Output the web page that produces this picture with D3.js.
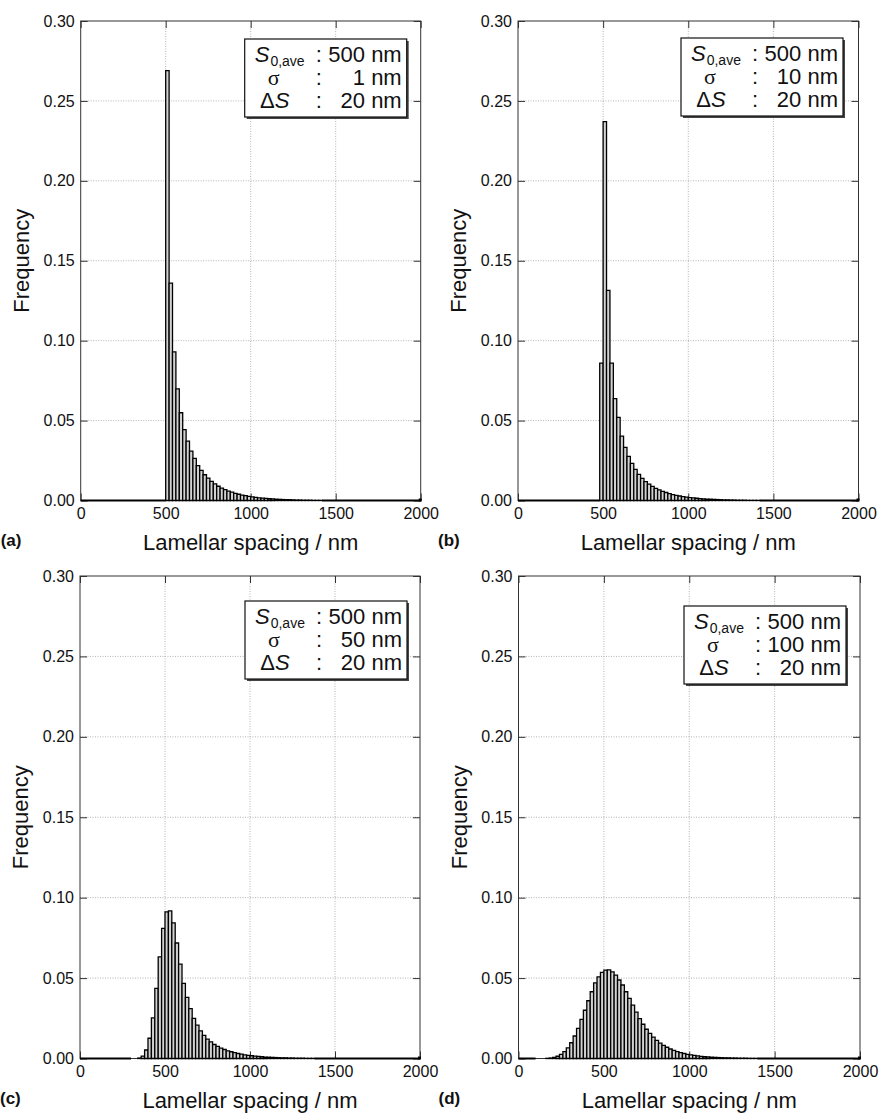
<!DOCTYPE html>
<html>
<head>
<meta charset="utf-8">
<script src="https://cdn.jsdelivr.net/npm/d3@7"></script>
<style>
  body { margin: 0; background: #fff; }
  text { font-family: "Liberation Sans", Arial, Helvetica, sans-serif; fill: #111; }
</style>
</head>
<body>
<svg id="fig" width="880" height="1114"></svg>
<script>
// ---- data ----
const xTicks = [0, 500, 1000, 1500, 2000];
const yTicks = [0, 0.05, 0.10, 0.15, 0.20, 0.25, 0.30];
const gridX = [500, 1000, 1500];
const gridY = [0.05, 0.10, 0.15, 0.20, 0.25];
const binWidth = 20;

const panelLetters = ["(a)", "(b)", "(c)", "(d)"];
const s0Labels = ["500 nm", "500 nm", "500 nm", "500 nm"];
const sigmaLabels = ["1 nm", "10 nm", "50 nm", "100 nm"];
const deltaLabels = ["20 nm", "20 nm", "20 nm", "20 nm"];

// first bin of each series (nm) and the empty stretch drawn as a flat line
const binStart = [500, 480, 340, 160];
const zeroRanges = [[0, 500], [0, 480], [0, 300], [0, 100]];

const freqA = [0.269, 0.136, 0.093, 0.0698, 0.0549, 0.0444, 0.0372, 0.0309, 0.0264, 0.0218,
  0.0189, 0.0161, 0.0140, 0.0120, 0.0104, 0.0089, 0.0078, 0.0068, 0.0059, 0.0052,
  0.0045, 0.0039, 0.0034, 0.0030, 0.0026, 0.0023, 0.0020, 0.0017, 0.0015, 0.0013,
  0.0011, 0.0010, 0.0008, 0.0007, 0.0006, 0.0005, 0.0005, 0.0004, 0.0003, 0.0003,
  0.0002, 0.0002, 0.0002, 0.0001, 0.0001, 0.0001];
const freqB = [0.086, 0.237, 0.1315, 0.086, 0.0638, 0.052, 0.0403, 0.0332, 0.0276, 0.0232,
  0.0195, 0.0164, 0.0138, 0.0118, 0.0102, 0.0088, 0.0076, 0.0066, 0.0057, 0.0050,
  0.0043, 0.0037, 0.0032, 0.0028, 0.0024, 0.0021, 0.0018, 0.0016, 0.0014, 0.0012,
  0.0010, 0.0009, 0.0008, 0.0007, 0.0006, 0.0005, 0.0004, 0.0004, 0.0003, 0.0003,
  0.0002, 0.0002, 0.0002, 0.0001, 0.0001, 0.0001, 0.0001];
const freqC = [0.0003, 0.0015, 0.0053, 0.0126, 0.0252, 0.0436, 0.0632, 0.0809, 0.0912, 0.0918,
  0.0843, 0.0718, 0.0587, 0.0467, 0.0380, 0.0310, 0.0250, 0.0208, 0.0172, 0.0144,
  0.0120, 0.0103, 0.0087, 0.0075, 0.0065, 0.0056, 0.0048, 0.0042, 0.0036, 0.0031,
  0.0027, 0.0023, 0.0020, 0.0017, 0.0015, 0.0013, 0.0011, 0.0009, 0.0008, 0.0007,
  0.0006, 0.0005, 0.0004, 0.0004, 0.0003, 0.0003, 0.0002, 0.0002, 0.0002, 0.0001,
  0.0001, 0.0001];
const freqD = [0.0001, 0.0003, 0.0007, 0.0014, 0.0026, 0.0043, 0.0066, 0.0098, 0.0140, 0.0187,
  0.0243, 0.0300, 0.0359, 0.0415, 0.0470, 0.0508, 0.0535, 0.0550, 0.0551, 0.0539,
  0.0519, 0.0488, 0.0457, 0.0415, 0.0374, 0.0332, 0.0288, 0.0248, 0.0213, 0.0182,
  0.0156, 0.0133, 0.0113, 0.0096, 0.0082, 0.0070, 0.0059, 0.0050, 0.0043, 0.0036,
  0.0031, 0.0026, 0.0022, 0.0019, 0.0016, 0.0013, 0.0011, 0.0010, 0.0008, 0.0007,
  0.0006, 0.0005, 0.0004, 0.0004, 0.0003, 0.0003, 0.0002, 0.0002, 0.0002, 0.0001,
  0.0001, 0.0001];
const series = [freqA, freqB, freqC, freqD];

// ---- layout ----
const frames = [
  {x0: 80.7, x1: 420.7, y0: 21,  y1: 500.5, boxRight: 14, boxTop: 18},
  {x0: 518,  x1: 858.5, y0: 21,  y1: 500.5, boxRight: 15.5, boxTop: 17},
  {x0: 80,   x1: 420,   y0: 576, y1: 1058.5, boxRight: 13, boxTop: 25},
  {x0: 518.5, x1: 860,  y0: 576, y1: 1058.5, boxRight: 14, boxTop: 30}
];
const boxW = 162, boxH = 78;

const svg = d3.select("#fig");

frames.forEach((f, i) => drawPanel(f, i));

function drawPanel(f, i) {
  const x = d3.scaleLinear().domain([0, 2000]).range([f.x0, f.x1]);
  const y = d3.scaleLinear().domain([0, 0.30]).range([f.y1, f.y0]);
  const g = svg.append("g");

  // dotted grid
  g.selectAll(".gx").data(gridX).join("line")
    .attr("x1", d => x(d)).attr("x2", d => x(d))
    .attr("y1", f.y0).attr("y2", f.y1)
    .attr("stroke", "#b4b4b4").attr("stroke-width", 1).attr("stroke-dasharray", "1,1.5");
  g.selectAll(".gy").data(gridY).join("line")
    .attr("x1", f.x0).attr("x2", f.x1)
    .attr("y1", d => y(d)).attr("y2", d => y(d))
    .attr("stroke", "#b4b4b4").attr("stroke-width", 1).attr("stroke-dasharray", "1,1.5");

  // axes with inward ticks
  const left = g.append("g").attr("transform", `translate(${f.x0},0)`)
    .call(d3.axisLeft(y).tickValues(yTicks).tickFormat(d3.format(".2f")).tickSize(-7).tickPadding(6));
  const right = g.append("g").attr("transform", `translate(${f.x1},0)`)
    .call(d3.axisRight(y).tickValues(yTicks).tickFormat("").tickSize(-7));
  const top = g.append("g").attr("transform", `translate(0,${f.y0})`)
    .call(d3.axisTop(x).tickValues(xTicks).tickFormat("").tickSize(-7));
  const bottom = g.append("g").attr("transform", `translate(0,${f.y1})`)
    .call(d3.axisBottom(x).tickValues(xTicks).tickFormat(d3.format("d")).tickSize(-7).tickPadding(7));
  [left, right, top, bottom].forEach(a => {
    a.select(".domain").remove();
    a.selectAll("line").attr("stroke", "#333");
    a.selectAll("text").attr("font-size", 16).attr("fill", "#111")
      .style("font-family", '"Liberation Sans", Arial, sans-serif');
  });

  // frame
  g.append("rect").attr("x", f.x0).attr("y", f.y0)
    .attr("width", f.x1 - f.x0).attr("height", f.y1 - f.y0)
    .attr("fill", "none").attr("stroke", "#333").attr("stroke-width", 1);

  // histogram bars
  const vals = series[i];
  const bins = vals.map((v, k) => ({x0: binStart[i] + k * binWidth, v}));
  const lastEdge = binStart[i] + vals.length * binWidth;

  g.selectAll(".zero").data([zeroRanges[i], [lastEdge, 2000]]).join("line")
    .attr("x1", d => x(d[0])).attr("x2", d => x(d[1]))
    .attr("y1", y(0)).attr("y2", y(0))
    .attr("stroke", "#000").attr("stroke-width", 2);

  g.selectAll(".bar").data(bins).join("path")
    .attr("d", d => {
      const a = x(d.x0), b = x(d.x0 + binWidth), y0 = y(0), y1 = y(d.v);
      return `M${a},${y0}L${a},${y1}L${b},${y1}L${b},${y0}Z`;
    })
    .attr("fill", "#d2d2d2").attr("stroke", "#000").attr("stroke-width", 1.3)
    .attr("stroke-linejoin", "miter");

  // end marker at the right end of the baseline
  g.append("rect").attr("x", x(2000) - 2).attr("y", y(0) - 2)
    .attr("width", 3).attr("height", 3).attr("fill", "#000");

  // axis titles
  g.append("text")
    .attr("x", (f.x0 + f.x1) / 2).attr("y", f.y1 + 49)
    .attr("text-anchor", "middle").attr("font-size", 22)
    .text("Lamellar spacing / nm");
  g.append("text")
    .attr("transform", `translate(${f.x0 - 52},${(f.y0 + f.y1) / 2}) rotate(-90)`)
    .attr("text-anchor", "middle").attr("font-size", 22)
    .text("Frequency");
  g.append("text")
    .attr("x", f.x0 - 80).attr("y", f.y1 + 45)
    .attr("font-size", 17).attr("font-weight", "bold")
    .text(panelLetters[i]);

  // parameter box
  const bx = f.x1 - f.boxRight - boxW, by = f.y0 + f.boxTop;
  const lg = g.append("g").attr("transform", `translate(${bx},${by})`);
  lg.append("rect").attr("x", 2).attr("y", 2).attr("width", boxW).attr("height", boxH).attr("fill", "#444");
  lg.append("rect").attr("width", boxW).attr("height", boxH)
    .attr("fill", "#fff").attr("stroke", "#111").attr("stroke-width", 1.2);

  const rows = [22.5, 45.5, 68.5];
  const values = [s0Labels[i], sigmaLabels[i], deltaLabels[i]];

  const t0 = lg.append("text").attr("x", 10).attr("y", rows[0]).attr("font-size", 22);
  t0.append("tspan").attr("font-style", "italic").text("S");
  t0.append("tspan").attr("font-size", 14).attr("dy", 4).attr("dx", 1).text("0,ave");

  lg.append("text").attr("x", 29).attr("y", rows[1]).attr("text-anchor", "middle")
    .attr("font-size", 22).style("font-family", '"Liberation Serif", "DejaVu Serif", serif')
    .text("σ");

  const t2 = lg.append("text").attr("x", 30).attr("y", rows[2]).attr("text-anchor", "middle").attr("font-size", 22);
  t2.append("tspan").text("Δ");
  t2.append("tspan").attr("font-style", "italic").text("S");

  lg.selectAll(".colon").data(rows).join("text")
    .attr("x", 74).attr("y", d => d).attr("text-anchor", "middle")
    .attr("font-size", 22).text(":");
  lg.selectAll(".val").data(values).join("text")
    .attr("x", boxW - 5).attr("y", (d, k) => rows[k]).attr("text-anchor", "end")
    .attr("font-size", 22).text(d => d);
}
</script>
</body>
</html>
